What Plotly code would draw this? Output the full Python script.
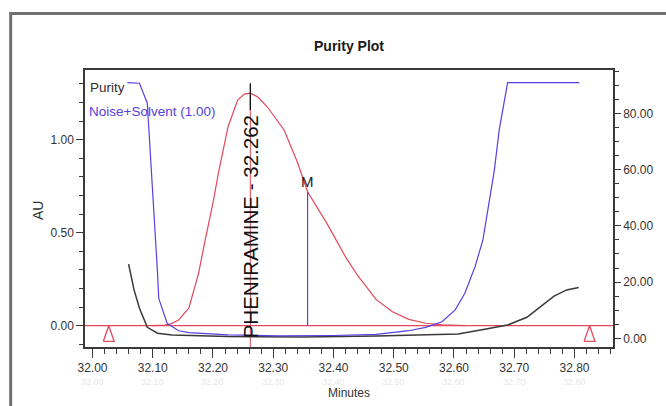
import plotly.graph_objects as go

# ---------------- data ----------------
x_ticks = [32.00, 32.10, 32.20, 32.30, 32.40, 32.50, 32.60, 32.70, 32.80]
x_tick_text = ["32.00", "32.10", "32.20", "32.30", "32.40", "32.50", "32.60", "32.70", "32.80"]
au_ticks = [0.0, 0.5, 1.0]
au_tick_text = ["0.00", "0.50", "1.00"]
deg_ticks = [0, 20, 40, 60, 80]
deg_tick_text = ["0.00", "20.00", "40.00", "60.00", "80.00"]

# chromatogram (AU)
red_x = [32.100, 32.120, 32.130, 32.143, 32.160, 32.176, 32.187, 32.200, 32.209, 32.225,
         32.241, 32.252, 32.262, 32.274, 32.290, 32.318, 32.340, 32.357, 32.389, 32.405,
         32.420, 32.440, 32.471, 32.498, 32.525, 32.553, 32.580, 32.620]
red_y = [0.0, 0.003, 0.010, 0.031, 0.095, 0.28, 0.46, 0.66, 0.82, 1.07,
         1.213, 1.245, 1.25, 1.231, 1.177, 1.052, 0.88, 0.72, 0.55, 0.46,
         0.37, 0.27, 0.14, 0.075, 0.034, 0.013, 0.004, 0.0]

# purity angle (degrees) - blue
blue_x = [32.058, 32.078, 32.091, 32.097, 32.105, 32.108, 32.110, 32.124, 32.143, 32.160,
          32.225, 32.307, 32.400, 32.471, 32.525, 32.553, 32.580, 32.602, 32.618, 32.635,
          32.648, 32.659, 32.667, 32.675, 32.689, 32.808]
blue_y = [90.9, 90.7, 83.6, 63.4, 35.0, 23.1, 14.2, 5.3, 2.7, 2.0,
          1.2, 0.9, 1.0, 1.4, 2.7, 3.9, 5.9, 10.1, 16.0, 25.5,
          35.0, 49.0, 59.8, 74.0, 90.9, 90.9]

# threshold (degrees) - black
black_x = [32.060, 32.069, 32.078, 32.091, 32.108, 32.132, 32.225, 32.350, 32.471, 32.553,
           32.607, 32.651, 32.689, 32.721, 32.744, 32.766, 32.787, 32.807]
black_y = [26.4, 17.2, 10.7, 3.9, 1.8, 1.2, 0.6, 0.5, 0.8, 1.2,
           1.5, 3.2, 4.7, 7.5, 11.2, 15.0, 17.2, 18.1]

baseline_level = 0.0
tri_x = [32.027, 32.825]          # integration start / end markers
peak_x = 32.262
peak_apex = 1.25
peak_label = "PHENIRAMINE - 32.262"
m_x = 32.357
m_top = 0.72

x_range = [31.9876, 32.8639]
au_range = [-0.1145, 1.3747]
deg_range = [-3.09, 95.4]

# ---------------- styling ----------------
FONT = "Liberation Sans, Arial, sans-serif"
RED = "#e2485a"
BLUE = "#5540e0"
DARK = "#3a3a3a"

W, H = 666, 406
L, R, T, B = 85, 46, 70, 59
pw, ph = W - L - R, H - T - B


def px_to_paper_x(px):
    return (px - L) / pw


def py_to_paper_y(py):
    return (H - B - py) / ph


def py_to_au(py):
    return au_range[0] + (H - B - py) / ph * (au_range[1] - au_range[0])


fig = go.Figure()

# baseline
fig.add_trace(go.Scatter(x=x_range, y=[baseline_level, baseline_level], mode="lines",
                         line=dict(color=RED, width=1.2), hoverinfo="skip", showlegend=False))

# triangles (open), built from marker positions
tri_half_w = 0.009
tri_h = 0.084
for tx in tri_x:
    fig.add_trace(go.Scatter(
        x=[tx - tri_half_w, tx, tx + tri_half_w, tx - tri_half_w],
        y=[baseline_level - tri_h, baseline_level, baseline_level - tri_h, baseline_level - tri_h],
        mode="lines", line=dict(color=RED, width=1.3), hoverinfo="skip", showlegend=False))

# chromatogram
fig.add_trace(go.Scatter(x=red_x, y=red_y, mode="lines", line=dict(color=RED, width=1.2),
                         showlegend=False))

# peak drop line (red) and label line (black)
fig.add_trace(go.Scatter(x=[peak_x, peak_x], y=[au_range[0], peak_apex], mode="lines",
                         line=dict(color=RED, width=1.0), showlegend=False))
fig.add_trace(go.Scatter(x=[peak_x, peak_x], y=[1.16, 1.303], mode="lines",
                         line=dict(color="#111111", width=1.3), showlegend=False))

# M line
fig.add_trace(go.Scatter(x=[m_x, m_x], y=[baseline_level, m_top], mode="lines",
                         line=dict(color=BLUE, width=1.2), showlegend=False))

# purity curves on the degrees axis
fig.add_trace(go.Scatter(x=black_x, y=black_y, mode="lines", yaxis="y2",
                         line=dict(color="#3c3838", width=1.5), showlegend=False))
fig.add_trace(go.Scatter(x=blue_x, y=blue_y, mode="lines", yaxis="y2",
                         line=dict(color=BLUE, width=1.2), showlegend=False))

annotations = [
    dict(text=peak_label, x=peak_x, y=py_to_au(227), xref="x", yref="y",
         textangle=-90, showarrow=False, xanchor="center", yanchor="middle",
         font=dict(family=FONT, size=20.5, color="#111111")),
    dict(text="M", x=m_x, y=m_top, xref="x", yref="y", showarrow=False,
         xanchor="center", yanchor="bottom", yshift=0,
         font=dict(family=FONT, size=15, color="#222222")),
    dict(text="Purity", x=px_to_paper_x(88), y=py_to_paper_y(87), xref="paper", yref="paper",
         showarrow=False, xanchor="left", yanchor="middle",
         font=dict(family=FONT, size=13.5, color="#3a2b2b")),
    dict(text="Noise+Solvent (1.00)", x=px_to_paper_x(87), y=py_to_paper_y(111),
         xref="paper", yref="paper", showarrow=False, xanchor="left", yanchor="middle",
         font=dict(family=FONT, size=13.5, color=BLUE)),
    dict(text="AU", x=px_to_paper_x(37.5), y=py_to_paper_y(211), xref="paper", yref="paper",
         textangle=-90, showarrow=False, xanchor="center", yanchor="middle",
         font=dict(family=FONT, size=14, color="#333333")),
    dict(text="Degrees", x=px_to_paper_x(683), y=py_to_paper_y(205), xref="paper", yref="paper",
         textangle=-90, showarrow=False, xanchor="center", yanchor="middle",
         font=dict(family=FONT, size=16, color="#333333")),
    dict(text="Minutes", x=px_to_paper_x(352), y=py_to_paper_y(393), xref="paper", yref="paper",
         showarrow=False, xanchor="center", yanchor="middle",
         font=dict(family=FONT, size=12, color="#333333")),
    dict(text="<b>Purity Plot</b>", x=px_to_paper_x(352.5), y=py_to_paper_y(46), xref="paper",
         yref="paper", showarrow=False, xanchor="center", yanchor="middle",
         font=dict(family=FONT, size=14, color="#1a1a1a")),
]
# faint ghost copies of the tick labels below the axis
for tv, tt in zip(x_ticks, x_tick_text):
    annotations.append(dict(text=tt, x=tv, y=py_to_paper_y(382), xref="x", yref="paper",
                            showarrow=False, xanchor="center", yanchor="middle",
                            font=dict(family=FONT, size=9, color="#e8e8e8")))

shapes = [
    # outer frame
    dict(type="rect", xref="paper", yref="paper",
         x0=px_to_paper_x(9.7), x1=px_to_paper_x(720),
         y0=py_to_paper_y(440), y1=py_to_paper_y(13.5),
         line=dict(color="#707070", width=3), layer="below"),
]

fig.update_layout(
    width=W, height=H,
    margin=dict(l=L, r=R, t=T, b=B),
    paper_bgcolor="white", plot_bgcolor="white",
    showlegend=False,
    annotations=annotations,
    shapes=shapes,
    xaxis=dict(
        range=x_range, tickvals=x_ticks, ticktext=x_tick_text,
        showgrid=False, zeroline=False,
        showline=True, linecolor=DARK, linewidth=1.5, mirror=True,
        ticks="outside", ticklen=9, tickwidth=1.2, tickcolor=DARK,
        tickfont=dict(family=FONT, size=12, color="#333333"),
        minor=dict(dtick=0.02, tick0=32.0, ticks="outside", ticklen=5, tickcolor=DARK, tickwidth=1),
    ),
    yaxis=dict(
        range=au_range, tickvals=au_ticks, ticktext=au_tick_text,
        showgrid=False, zeroline=False,
        showline=True, linecolor=DARK, linewidth=1.5,
        ticks="outside", ticklen=7, tickwidth=1.2, tickcolor=DARK,
        tickfont=dict(family=FONT, size=12, color="#333333"),
        minor=dict(dtick=0.1, tick0=0, ticks="outside", ticklen=4, tickcolor=DARK, tickwidth=1),
    ),
    yaxis2=dict(
        range=deg_range, tickvals=deg_ticks, ticktext=deg_tick_text,
        overlaying="y", side="right", anchor="x",
        showgrid=False, zeroline=False,
        showline=True, linecolor=DARK, linewidth=1.5,
        ticks="outside", ticklen=6, tickwidth=1.2, tickcolor=DARK,
        tickfont=dict(family=FONT, size=12, color="#333333"),
        minor=dict(dtick=5, tick0=0, ticks="outside", ticklen=4, tickcolor=DARK, tickwidth=1),
    ),
)

fig.write_html("out.html")
